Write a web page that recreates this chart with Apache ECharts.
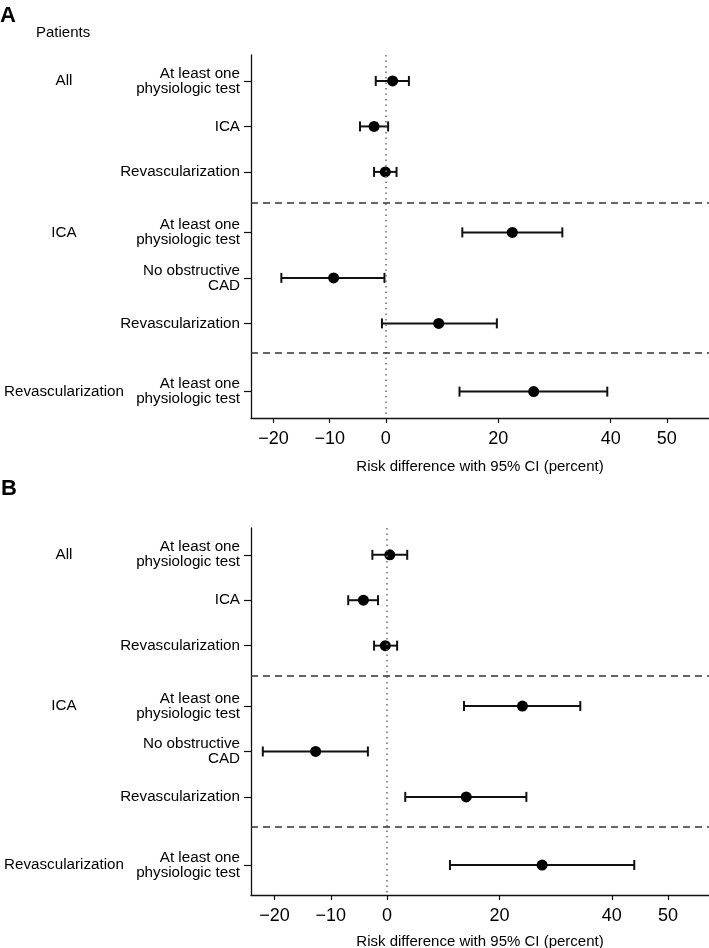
<!DOCTYPE html>
<html>
<head>
<meta charset="utf-8">
<script src="https://cdn.jsdelivr.net/npm/echarts@6/dist/echarts.min.js"></script>
<style>
html,body{margin:0;padding:0;background:#fff;}
#chart{width:709px;height:948px;}
</style>
</head>
<body>
<div id="chart"></div>
<script>
// ---- data ----
const rowLabels = ['At least one\nphysiologic test', 'ICA', 'Revascularization',
  'At least one\nphysiologic test', 'No obstructive\nCAD', 'Revascularization',
  'At least one\nphysiologic test'];
const groupLabels = ['All', 'ICA', 'Revascularization'];
const groupRowIndex = [0, 3, 6];
const rowPos = [1, 2, 3, 4.33, 5.33, 6.33, 7.83];
const separatorPos = [3.67, 6.98];
const xTicks = [-20, -10, 0, 20, 40, 50];

const estA  = [1.2, -2.1, -0.1, 22.5, -9.3, 9.4, 26.3];
const lowA  = [-1.8, -4.6, -2.1, 13.6, -18.6, -0.7, 13.1];
const highA = [4.1, 0.4, 1.9, 31.4, -0.25, 19.75, 39.4];

const estB  = [0.5, -4.2, -0.3, 24.1, -12.7, 14.1, 27.6];
const lowB  = [-2.6, -6.9, -2.3, 13.7, -22.1, 3.25, 11.2];
const highB = [3.6, -1.6, 1.8, 34.4, -3.4, 24.8, 44.0];

const axisTitle = 'Risk difference with 95% CI (percent)';

// ---- build ----
const FONT = '"Liberation Sans", Arial, Helvetica, sans-serif';
const chart = echarts.init(document.getElementById('chart'));

function nearestIdx(arr, v) {
  let b = 0;
  for (let i = 1; i < arr.length; i++) if (Math.abs(arr[i] - v) < Math.abs(arr[b] - v)) b = i;
  return b;
}
const groupPos = groupRowIndex.map(i => rowPos[i]);

const panels = [
  {est: estA, low: lowA, high: highA, top: 55, height: 363, xmin: -24, xmax: 57.5, ymin: 0.43, ymax: 8.41, nameGap: 41},
  {est: estB, low: lowB, high: highB, top: 528, height: 367, xmin: -24.2, xmax: 57.3, ymin: 0.41, ymax: 8.49, nameGap: 39}
];

const grids = [], xAxes = [], yAxes = [], series = [];
panels.forEach((p, k) => {
  grids.push({left: 251, right: 0, top: p.top, height: p.height, containLabel: false, outerBoundsMode: 'none'});
  xAxes.push({
    type: 'value', gridIndex: k, min: p.xmin, max: p.xmax, position: 'bottom',
    name: axisTitle, nameLocation: 'middle', nameGap: p.nameGap,
    nameTextStyle: {fontFamily: FONT, fontSize: 15, color: '#000'},
    axisLine: {show: true, onZero: false, lineStyle: {color: '#111', width: 1.3}},
    axisTick: {show: true, length: 5, customValues: xTicks, lineStyle: {color: '#111', width: 1.2}},
    axisLabel: {customValues: xTicks, margin: 12, fontFamily: FONT, fontSize: 18, color: '#000',
      hideOverlap: false, showMinLabel: true, showMaxLabel: true,
      formatter: v => (v < 0 ? '\u2212' + Math.abs(v) : String(v))},
    splitLine: {show: false}
  });
  yAxes.push({
    type: 'value', gridIndex: k, inverse: true, min: p.ymin, max: p.ymax, position: 'left',
    axisLine: {show: true, onZero: false, lineStyle: {color: '#111', width: 1.3}},
    axisTick: {show: true, length: 7, customValues: rowPos, lineStyle: {color: '#111', width: 1.2}},
    axisLabel: {customValues: rowPos, margin: 11, fontFamily: FONT, fontSize: 15.2, lineHeight: 15,
      color: '#000', align: 'right', formatter: v => rowLabels[nearestIdx(rowPos, v)]},
    splitLine: {show: false}
  });
  yAxes.push({
    type: 'value', gridIndex: k, inverse: true, min: p.ymin, max: p.ymax, position: 'left',
    axisLine: {show: false, onZero: false}, axisTick: {show: false}, splitLine: {show: false},
    axisLabel: {customValues: groupPos, margin: 187, align: 'center', fontFamily: FONT, fontSize: 15.2,
      color: '#000', formatter: v => groupLabels[nearestIdx(groupPos, v)]}
  });
  const ciData = p.est.map((e, i) => [p.low[i], p.high[i], rowPos[i]]);
  series.push({
    type: 'custom', xAxisIndex: k, yAxisIndex: 2 * k, z: 3,
    data: ciData,
    encode: {x: [0, 1], y: 2},
    renderItem: (params, api) => {
      const a = api.coord([api.value(0), api.value(2)]);
      const b = api.coord([api.value(1), api.value(2)]);
      const st = {stroke: '#111', lineWidth: 2};
      return {type: 'group', children: [
        {type: 'line', shape: {x1: a[0], y1: a[1], x2: b[0], y2: b[1]}, style: st},
        {type: 'line', shape: {x1: a[0], y1: a[1] - 5, x2: a[0], y2: a[1] + 5}, style: st},
        {type: 'line', shape: {x1: b[0], y1: b[1] - 5, x2: b[0], y2: b[1] + 5}, style: st}
      ]};
    },
    markLine: {
      silent: true, symbol: 'none', label: {show: false},
      data: [
        {xAxis: 0, lineStyle: {color: '#777', type: [1.5, 4], width: 1.6}},
        ...separatorPos.map(s => ({yAxis: s, lineStyle: {color: '#333', type: [7, 5], width: 1.5}}))
      ]
    }
  });
  series.push({
    type: 'scatter', xAxisIndex: k, yAxisIndex: 2 * k, z: 4,
    symbol: 'circle', symbolSize: 11, itemStyle: {color: '#000', opacity: 1},
    data: p.est.map((e, i) => [e, rowPos[i]])
  });
});

chart.setOption({
  animation: false,
  grid: grids, xAxis: xAxes, yAxis: yAxes, series: series,
  graphic: [
    {type: 'text', left: 0, top: 5, style: {text: 'A', font: 'bold 22px ' + FONT, fill: '#000'}},
    {type: 'text', left: 36, top: 25, style: {text: 'Patients', font: '15px ' + FONT, fill: '#000'}},
    {type: 'text', left: 1, top: 478, style: {text: 'B', font: 'bold 22px ' + FONT, fill: '#000'}}
  ]
});
</script>
</body>
</html>
